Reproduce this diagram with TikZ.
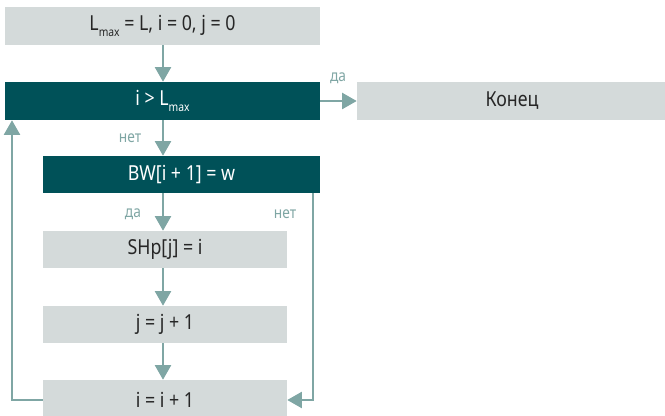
\documentclass[tikz,border=0pt]{standalone}
\usepackage{fontspec}
\setmainfont{Noto Sans}[FakeStretch=0.86]
\usetikzlibrary{arrows.meta}
\definecolor{boxgray}{HTML}{D4DADA}
\definecolor{boxdark}{HTML}{005158}
\definecolor{flow}{HTML}{7FA6A4}
\definecolor{ink}{HTML}{262626}
\newcommand{\lmax}{L\raisebox{-0.6ex}{\fontsize{9}{10}\selectfont max}}
\tikzset{
  px/.style={x=0.75pt,y=-0.75pt},
  stepbox/.style={rectangle,inner sep=0pt,fill=boxgray,text=ink,font=\fontsize{15.5}{17}\selectfont},
  testbox/.style={rectangle,inner sep=0pt,fill=boxdark,text=white,font=\fontsize{15.5}{17}\selectfont},
  flowline/.style={draw=flow,line width=1.9pt,-{Triangle[width=12pt,length=11pt]}},
  branch/.style={text=flow,font=\fontsize{12}{13}\selectfont,inner sep=0pt}
}
\begin{document}
\begin{tikzpicture}[px]
\useasboundingbox (0,0) rectangle (665,416);
% process blocks
\node[stepbox,minimum width=315*0.75pt,minimum height=38*0.75pt] (init) at (162.5,26) {\lmax{} = L, i = 0, j = 0};
\node[testbox,minimum width=315*0.75pt,minimum height=38*0.75pt] (cond) at (162.5,101) {i > \lmax};
\node[stepbox,minimum width=310*0.75pt,minimum height=38*0.75pt] (stop) at (512,101) {Конец};
\node[testbox,minimum width=277*0.75pt,minimum height=37*0.75pt] (bw) at (181.5,174.5) {BW[i + 1] = w};
\node[stepbox,minimum width=244*0.75pt,minimum height=37*0.75pt] (shp) at (165,249.5) {SHp[j] = i};
\node[stepbox,minimum width=244*0.75pt,minimum height=37*0.75pt] (jinc) at (165,324.5) {j = j + 1};
\node[stepbox,minimum width=244*0.75pt,minimum height=40*0.75pt] (iinc) at (165,400) {i = i + 1};
% guide coordinates for the vertical runs
\coordinate (axis) at (163,0);
\coordinate (leftrun) at (12,0);
\coordinate (rightrun) at (313,0);
% main flow
\draw[flowline] (init.south -| axis) -- (cond.north -| axis);
\draw[flowline] (cond.south -| axis) -- (bw.north -| axis);
\draw[flowline] (bw.south -| axis) -- (shp.north -| axis);
\draw[flowline] (shp.south -| axis) -- (jinc.north -| axis);
\draw[flowline] (jinc.south -| axis) -- (iinc.north -| axis);
\draw[flowline] (cond.east) -- (stop.west);
% loops
\draw[flowline] (iinc.west) -- (iinc.west -| leftrun) -- (cond.south -| leftrun);
\draw[flowline] (bw.south -| rightrun) -- (iinc.east -| rightrun) -- (iinc.east);
% branch labels
\node[branch] (yes1) at (338,78) {да};
\node[branch] (no1) at (130,138) {нет};
\node[branch] (yes2) at (133,214) {да};
\node[branch] (no2) at (285,214) {нет};
\end{tikzpicture}
\end{document}
